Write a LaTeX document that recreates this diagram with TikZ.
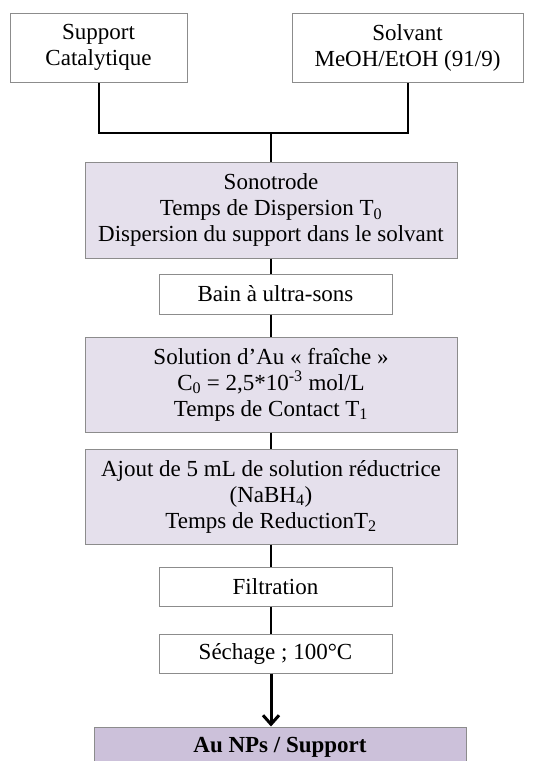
\documentclass[tikz,border=0pt]{standalone}
\usepackage{fontspec}
\setmainfont{Liberation Serif}
\usetikzlibrary{arrows.meta}

\definecolor{lavlight}{HTML}{E5E0EC}
\definecolor{lavdark}{HTML}{CCC1DA}
\definecolor{boxgrey}{HTML}{8C8C8C}

\tikzset{
    stepbox/.style={draw=boxgrey, line width=1pt, align=center, inner sep=0pt,
            font=\fontsize{23}{26}\selectfont},
    plainbox/.style={stepbox, fill=white},
    lavbox/.style={stepbox, fill=lavlight, minimum width=372pt},
    link/.style={line width=2pt, black},
}

\begin{document}
\begin{tikzpicture}[x=1pt, y=-1pt]
        % Page frame
        \useasboundingbox (0,0) rectangle (550,761);
        \clip (0,0) rectangle (550,761);

        % Starting materials
        \node[plainbox, minimum width=177pt, minimum height=69pt] (supp) at (98.5,47.5) {Support\\Catalytique};
        \node[plainbox, minimum width=231pt, minimum height=69pt] (solv) at (407.5,47.5) {Solvant\\MeOH/EtOH (91/9)};

        % Steps of the preparation
        \node[lavbox, minimum height=96pt] (sono) at (271,210) {Sonotrode\\Temps de Dispersion T\textsubscript{0}\\Dispersion du support dans le solvant};
        \node[plainbox, minimum width=233pt, minimum height=40pt] (bain) at (275.5,294) {Bain à ultra-sons};
        \node[lavbox, minimum height=95pt] (sol) at (271,384.5) {Solution d’Au « fraîche »\\C\textsubscript{0} = 2,5*10\textsuperscript{-3} mol/L\\Temps de Contact T\textsubscript{1}};
        \node[lavbox, minimum height=95pt] (ajout) at (271,496.5) {Ajout de 5 mL de solution réductrice\\(NaBH\textsubscript{4})\\Temps de ReductionT\textsubscript{2}};
        \node[plainbox, minimum width=233pt, minimum height=39pt] (filt) at (275.5,586.5) {Filtration};
        \node[plainbox, minimum width=233pt, minimum height=39pt] (sech) at (275.5,653.5) {Séchage ; 100°C};

        % Final product
        \node[stepbox, fill=lavdark, minimum width=372pt, minimum height=40pt, font=\fontsize{23}{26}\selectfont\bfseries] (np) at (280,747) {Au NPs / Support};

        % Connectors
        \coordinate (join) at (271,133);
        \draw[link] (supp.south) |- (solv.south |- join) -- (solv.south);
        \draw[link] (join) -- (sono.north);
        \foreach \a/\b in {sono/bain, bain/sol, sol/ajout, ajout/filt, filt/sech} {
                \draw[link] (\a.south -| sono.south) -- (\b.north -| sono.south);
            }
        \draw[link, line width=3pt, -{Straight Barb[length=9pt, width=16pt]}] (sech.south -| sono.south) -- (np.north -| sono.south);
    \end{tikzpicture}
\end{document}
